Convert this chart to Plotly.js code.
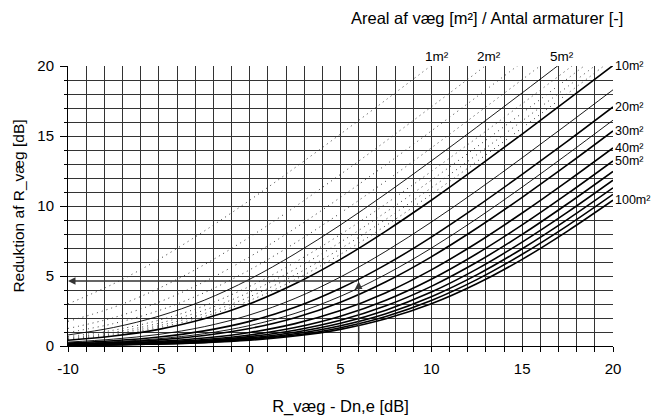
<!DOCTYPE html>
<html>
<head>
<meta charset="utf-8">
<script src="https://cdn.plot.ly/plotly-3.0.1.min.js"></script>
<style>html,body{margin:0;padding:0;background:#fff}#chart{width:652px;height:419px}</style>
</head>
<body>
<div id="chart"></div>
<script>
// x values: R_væg - Dn,e [dB]
const xVals = [-10, -7.5, -5, -2.5, 0, 2.5, 5, 7.5, 10, 12.5, 15, 17.5, 20];
// wall area [m2] of each curve
const areas = [1, 2, 3, 4, 5, 6, 7, 8, 9, 10, 15, 20, 25, 30, 40, 50, 60, 70, 80, 90, 100];
// reduction of R_væg [dB] (first values at x=-10)
const r1   = [3.01, 4.44, 6.19, 8.21, 10.41, 12.74, 15.14, 17.58, 20.04];
const r2   = [1.76, 2.76, 4.12, 5.81, 7.78, 9.95, 12.26, 14.64, 17.08, 19.54, 22.02];
const r3   = [1.25, 2.02, 3.13, 4.59, 6.37, 8.41, 10.62, 12.95, 15.36, 17.80, 20.27];
const r4   = [0.97, 1.60, 2.53, 3.81, 5.44, 7.36, 9.50, 11.78, 14.15, 16.58, 19.03, 21.51];
const r5   = [0.79, 1.32, 2.13, 3.27, 4.77, 6.59, 8.65, 10.88, 13.22, 15.63, 18.08, 20.55];
const r6   = [0.67, 1.13, 1.84, 2.87, 4.26, 5.98, 7.97, 10.16, 12.47, 14.86, 17.30, 19.76, 22.25];
const r7   = [0.58, 0.98, 1.62, 2.56, 3.85, 5.49, 7.42, 9.56, 11.84, 14.22, 16.64, 19.10, 21.58];
const r8   = [0.51, 0.87, 1.45, 2.31, 3.52, 5.08, 6.95, 9.05, 11.30, 13.66, 16.08, 18.53, 21.00];
const r9   = [0.46, 0.78, 1.31, 2.11, 3.25, 4.74, 6.55, 8.60, 10.83, 13.17, 15.58, 18.03, 20.50];
const r10  = [0.41, 0.71, 1.19, 1.94, 3.01, 4.44, 6.19, 8.21, 10.41, 12.74, 15.14, 17.58, 20.04];
const r15  = [0.28, 0.49, 0.83, 1.38, 2.22, 3.40, 4.93, 6.77, 8.85, 11.09, 13.44, 15.85, 18.30];
const r20  = [0.21, 0.37, 0.64, 1.08, 1.76, 2.76, 4.12, 5.81, 7.78, 9.95, 12.26, 14.64, 17.08];
const r25  = [0.17, 0.30, 0.52, 0.88, 1.46, 2.33, 3.55, 5.12, 6.99, 9.09, 11.35, 13.71, 16.13];
const r30  = [0.14, 0.25, 0.44, 0.75, 1.25, 2.02, 3.13, 4.59, 6.37, 8.41, 10.62, 12.95, 15.36];
const r40  = [0.11, 0.19, 0.33, 0.57, 0.97, 1.60, 2.53, 3.81, 5.44, 7.36, 9.50, 11.78, 14.15];
const r50  = [0.09, 0.15, 0.27, 0.46, 0.79, 1.32, 2.13, 3.27, 4.77, 6.59, 8.65, 10.88, 13.22];
const r60  = [0.07, 0.13, 0.22, 0.39, 0.67, 1.13, 1.84, 2.87, 4.26, 5.98, 7.97, 10.16, 12.47];
const r70  = [0.06, 0.11, 0.19, 0.34, 0.58, 0.98, 1.62, 2.56, 3.85, 5.49, 7.42, 9.56, 11.84];
const r80  = [0.05, 0.10, 0.17, 0.30, 0.51, 0.87, 1.45, 2.31, 3.52, 5.08, 6.95, 9.05, 11.30];
const r90  = [0.05, 0.09, 0.15, 0.26, 0.46, 0.78, 1.31, 2.11, 3.25, 4.74, 6.55, 8.60, 10.83];
const r100 = [0.04, 0.08, 0.14, 0.24, 0.41, 0.71, 1.19, 1.94, 3.01, 4.44, 6.19, 8.21, 10.41];
const curves = [r1, r2, r3, r4, r5, r6, r7, r8, r9, r10, r15, r20, r25, r30, r40, r50, r60, r70, r80, r90, r100];

// line-type groups
const dottedAreas = [1, 2, 3, 4, 6, 7, 8, 9];
const thinAreas = [5, 15, 25];
// labels
const rightLabelAreas = [10, 20, 30, 40, 50, 100];
const topLabelAreas = [1, 2, 5];
const topLabelX = [10.3, 13.2, 17.2];
// reading example (arrows)
const exampleX = 6;
const exampleY = 4.65;

const traces = areas.map((S, i) => {
  const y = curves[i];
  let line;
  if (dottedAreas.includes(S)) line = {color: '#333', width: 1, dash: '1px,4px', shape: 'spline'};
  else if (thinAreas.includes(S)) line = {color: '#000', width: 0.9, shape: 'spline'};
  else line = {color: '#000', width: 1.6, shape: 'spline'};
  return {x: xVals.slice(0, y.length), y: y, mode: 'lines', line: line, hoverinfo: 'skip', name: S + ' m²'};
});

const fontFam = 'Liberation Sans, Arial, Helvetica, sans-serif';
const annotations = [];
rightLabelAreas.forEach(S => {
  const y = curves[areas.indexOf(S)];
  annotations.push({x: 20, y: Math.min(y[y.length - 1], 20), xref: 'x', yref: 'y', xanchor: 'left', yanchor: 'middle',
    xshift: 0, text: S + 'm²', showarrow: false, font: {family: fontFam, size: 12.5, color: '#000'}});
});
topLabelAreas.forEach((S, i) => {
  annotations.push({x: topLabelX[i], y: 1, xref: 'x', yref: 'paper', xanchor: 'center', yanchor: 'bottom',
    yshift: 0, text: S + 'm²', showarrow: false, font: {family: fontFam, size: 13.5, color: '#000'}});
});
annotations.push({x: 1.022, y: 1.17, xref: 'paper', yref: 'paper', xanchor: 'right', yanchor: 'middle',
  text: 'Areal af væg [m²] / Antal armaturer [-]', showarrow: false, font: {family: fontFam, size: 16.5, color: '#000'}});
annotations.push({x: -10, y: exampleY, ax: exampleX, ay: exampleY, xref: 'x', yref: 'y', axref: 'x', ayref: 'y',
  showarrow: true, arrowhead: 2, arrowsize: 1, arrowwidth: 1.5, arrowcolor: '#333', text: '', standoff: 0});
annotations.push({x: exampleX, y: exampleY - 0.05, ax: exampleX, ay: 0, xref: 'x', yref: 'y', axref: 'x', ayref: 'y',
  showarrow: true, arrowhead: 2, arrowsize: 1, arrowwidth: 1.5, arrowcolor: '#333', text: '', standoff: 0});

const layout = {
  width: 652, height: 419,
  margin: {l: 68, r: 39, t: 66, b: 73},
  paper_bgcolor: '#fff', plot_bgcolor: '#fff',
  showlegend: false,
  font: {family: fontFam, size: 15, color: '#000'},
  xaxis: {
    range: [-10, 20], tickvals: [-10, -5, 0, 5, 10, 15, 20], ticktext: ['-10', '-5', '0', '5', '10', '15', '20'],
    ticks: 'outside', ticklen: 5, tickcolor: '#000', tickwidth: 1, ticklabelstandoff: 4,
    showgrid: true, gridcolor: '#333', gridwidth: 1, zeroline: false,
    showline: true, linecolor: '#000', linewidth: 1,
    minor: {tick0: 0, dtick: 1, showgrid: true, gridcolor: '#333', gridwidth: 1, ticks: 'outside', ticklen: 5, tickcolor: '#000'},
    tickfont: {family: fontFam, size: 15},
    title: {text: 'R_væg - Dn,e [dB]', font: {family: fontFam, size: 16.5}, standoff: 24}
  },
  yaxis: {
    range: [0, 20], tickvals: [0, 5, 10, 15, 20], ticktext: ['0', '5', '10', '15', '20'],
    ticks: 'outside', ticklen: 7, tickcolor: '#000', tickwidth: 1, ticklabelstandoff: 3,
    showgrid: true, gridcolor: '#333', gridwidth: 1, zeroline: false,
    showline: true, linecolor: '#000', linewidth: 1,
    minor: {tick0: 0, dtick: 1, showgrid: true, gridcolor: '#333', gridwidth: 1, ticks: 'outside', ticklen: 3, tickcolor: '#000'},
    tickfont: {family: fontFam, size: 15},
    title: {text: 'Reduktion af R_væg [dB]', font: {family: fontFam, size: 15.5}, standoff: 8}
  },
  annotations: annotations
};

Plotly.newPlot('chart', traces, layout, {staticPlot: true, displayModeBar: false});
</script>
</body>
</html>
